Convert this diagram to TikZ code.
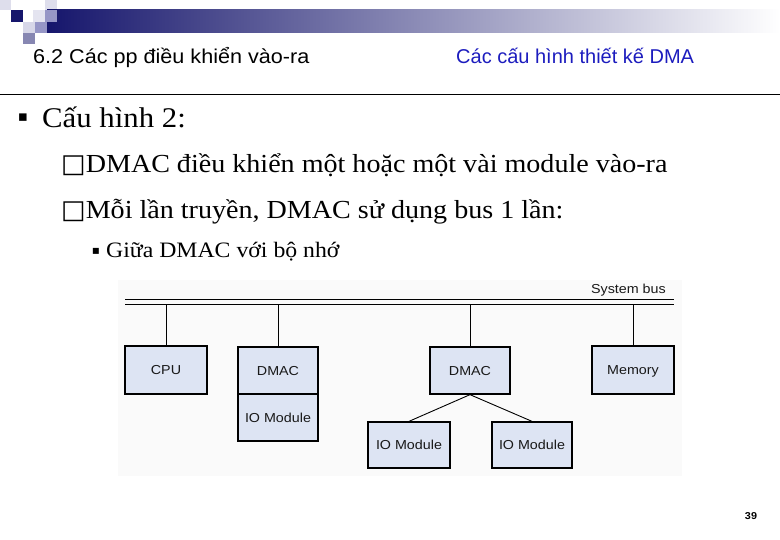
\documentclass[tikz,border=0pt]{standalone}
\usepackage{fontspec}
\setmainfont{Liberation Serif}[FakeStretch=1.08]
\newfontfamily\hdfont{Liberation Sans}[FakeStretch=1.08]
\newfontfamily\topicfont{Liberation Sans}
\newfontfamily\diagfont{Liberation Sans}[FakeStretch=1.1]
\newfontfamily\glyphfont{DejaVu Sans}
\usepackage{xcolor}
\usetikzlibrary{positioning,calc}

\definecolor{barnavy}{RGB}{22,22,108}
\definecolor{tilelight}{RGB}{222,222,236}
\definecolor{tilemid}{RGB}{150,150,198}
\definecolor{titleblue}{RGB}{28,28,190}
\definecolor{boxfill}{RGB}{221,228,243}
\definecolor{panelgray}{RGB}{250,250,250}
\definecolor{labelgray}{RGB}{25,25,25}

\newcommand\diagtext{\diagfont\fontsize{13}{15}\selectfont}

\begin{document}
\begin{tikzpicture}[x=1pt,y=-1pt,
	unitbox/.style={draw,line width=1.3pt,fill=boxfill,minimum width=80pt,minimum height=47pt,inner sep=0pt,text height=9.3pt,text depth=0pt,font=\diagtext,text=labelgray},
	wire/.style={line width=0.9pt},
	body/.style={anchor=base west,inner sep=0pt}]
	\useasboundingbox (0,0) rectangle (780,540);
	
	% slide header
	\fill[tilelight] (0,0) rectangle (11,10);
	\fill[barnavy] (11,10) rectangle (23,22);
	\fill[tilelight!80] (33,10) rectangle (45,22);
	\fill[tilelight] (45,0) rectangle (57,10);
	\shade[left color=barnavy,right color=white] (47,10) rectangle (780,33);
	\fill[tilemid] (45,10) rectangle (57,22);
	\fill[tilelight!90!tilemid] (23,22) rectangle (35,33);
	\fill[tilemid] (35,22) rectangle (47,33);
	\fill[tilemid!90!black] (23,33) rectangle (35,44);
	
	\node[body,font=\hdfont\fontsize{20}{22}\selectfont] (chap) at (33,64) {6.2 Các pp điều khiển vào-ra};
	\node[body,font=\topicfont\fontsize{20}{22}\selectfont,text=titleblue] (topic) at (456,64) {Các cấu hình thiết kế DMA};
	\draw[line width=1pt] (0,95) -- (780,95);
	
	% text
	\node[font=\glyphfont\fontsize{15}{15}\selectfont] (dot1) at (23,118) {▪};
	\node[body,font=\fontsize{28.5}{30}\selectfont] (cfg) at (42,128) {Cấu hình 2:};
	\node[body,font=\fontsize{26}{28}\selectfont] (item1) at (61,173) {{\glyphfont □}DMAC điều khiển một hoặc một vài module vào-ra};
	\node[body,font=\fontsize{26}{28}\selectfont] (item2) at (61,219) {{\glyphfont □}Mỗi lần truyền, DMAC sử dụng bus 1 lần:};
	\node[font=\glyphfont\fontsize{12}{12}\selectfont] (dot2) at (96,251) {▪};
	\node[body,font=\fontsize{22}{24}\selectfont] (sub1) at (106,258) {Giữa DMAC với bộ nhớ};
	
	% diagram
	\fill[panelgray] (118,280) rectangle (682,476);
	\coordinate (busA1) at (125,299.5);
	\coordinate (busA2) at (674,299.5);
	\coordinate (busB1) at (125,304.5);
	\coordinate (busB2) at (674,304.5);
	\draw[wire] (busA1) -- (busA2);
	\draw[wire] (busB1) -- (busB2);
	\node[anchor=base east,inner sep=0pt,font=\diagtext,text=labelgray] (sysbus) at (666,294) {System bus};
	
	\node[unitbox,minimum width=82pt,minimum height=48pt] (cpu) at (166,370) {CPU};
	\node[unitbox] (dmac1) at (278,370.5) {DMAC};
	\node[unitbox,below=-1.3pt of dmac1] (io1) {IO Module};
	\node[unitbox] (dmac2) at (470,370.5) {DMAC};
	\node[unitbox,minimum width=82pt,minimum height=46pt] (ioa) at (409,445) {IO Module};
	\node[unitbox,minimum height=46pt] (iob) at (532,445) {IO Module};
	\node[unitbox,minimum width=82pt,minimum height=48pt] (mem) at (633,370) {Memory};
	
	\draw[wire] (cpu.north) -- (cpu.north |- busB1);
	\draw[wire] (dmac1.north) -- (dmac1.north |- busB1);
	\draw[wire] (dmac2.north) -- (dmac2.north |- busB1);
	\draw[wire] (mem.north) -- (mem.north |- busB1);
	\draw[wire] (dmac2.south) -- (ioa.north);
	\draw[wire] (dmac2.south) -- (iob.north);
	
	\node[font=\hdfont\fontsize{10}{10}\selectfont\bfseries] (pg) at (751,516) {39};
\end{tikzpicture}
\end{document}
